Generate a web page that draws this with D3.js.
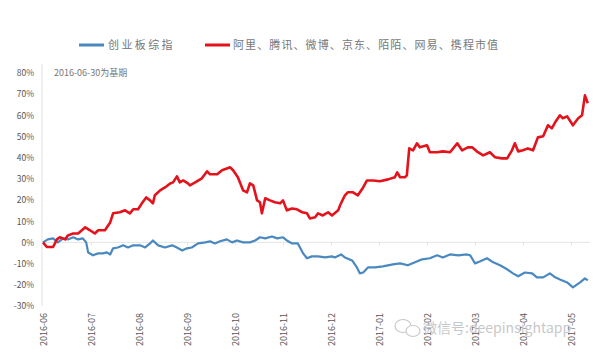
<!DOCTYPE html>
<html><head><meta charset="utf-8">
<script src="https://cdn.jsdelivr.net/npm/d3@7/dist/d3.min.js"></script>
<style>body{margin:0;background:#fff}svg{display:block}</style>
</head><body><svg id="c" width="603" height="356"></svg>
<script>
const tickLabels = ["2016-06","2016-07","2016-08","2016-09","2016-10","2016-11","2016-12","2017-01","2017-02","2017-03","2017-04","2017-05"];
const yTicks = [-30,-20,-10,0,10,20,30,40,50,60,70,80];
const seriesNames = ["创业板综指","阿里、腾讯、微博、京东、陌陌、网易、携程市值"];
// months since base date 2016-06-30, value in %
const redM = [0,0.08,0.21,0.29,0.35,0.46,0.52,0.63,0.73,0.81,0.88,0.98,1.08,1.15,1.29,1.40,1.46,1.60,1.71,1.81,1.88,1.98,2.06,2.15,2.23,2.29,2.33,2.44,2.54,2.65,2.71,2.79,2.85,2.92,3.02,3.06,3.17,3.31,3.42,3.48,3.63,3.73,3.90,3.96,4.06,4.17,4.25,4.31,4.38,4.46,4.52,4.56,4.63,4.73,4.83,4.94,5.00,5.08,5.19,5.29,5.40,5.50,5.56,5.67,5.73,5.83,5.94,6.02,6.15,6.19,6.29,6.35,6.46,6.56,6.67,6.75,6.88,7.02,7.19,7.33,7.38,7.44,7.54,7.58,7.63,7.71,7.79,7.85,8.00,8.06,8.21,8.33,8.48,8.63,8.73,8.85,8.94,9.06,9.17,9.31,9.42,9.56,9.67,9.77,9.83,9.90,10.00,10.10,10.21,10.31,10.42,10.52,10.60,10.67,10.77,10.83,10.92,11.04,11.15,11.23,11.29,11.35];
const redV = [0,-2.2,-2.2,1.4,2.4,1.4,3.3,4.2,4.2,5.7,7.1,5.7,4.2,5.7,5.7,9.4,13.7,14.2,15.1,13.7,15.6,15.6,18.4,21.2,19.8,18.4,22.2,24.5,25.9,27.8,28.3,31.1,28.3,29.2,27.8,26.9,28.3,30.2,33.5,32.1,32.1,34.0,35.4,34.0,30.7,24.5,23.6,27.8,26.9,19.8,18.9,13.7,20.8,19.8,18.9,18.4,19.8,15.1,16.0,15.6,14.2,13.7,11.3,11.8,13.7,12.7,14.2,12.7,15.1,17.5,22.2,23.6,23.6,22.2,25.9,29.2,29.2,28.8,29.7,30.7,33.0,30.7,30.7,31.6,44.3,43.4,46.7,44.8,45.8,42.5,42.5,42.9,42.5,46.7,43.4,44.8,44.8,42.5,41.0,42.5,40.1,39.6,39.6,43.4,46.7,42.9,43.4,44.3,43.4,49.5,50.0,55.2,53.8,56.6,59.9,58.5,59.4,55.2,58.5,59.9,69.3,65.6];
const blueM = [0,0.10,0.21,0.31,0.42,0.52,0.63,0.73,0.83,0.90,0.94,1.04,1.15,1.25,1.33,1.40,1.46,1.56,1.67,1.77,1.88,2.02,2.13,2.23,2.29,2.40,2.54,2.69,2.79,2.90,3.00,3.10,3.23,3.38,3.48,3.58,3.69,3.83,3.94,4.04,4.17,4.31,4.42,4.52,4.63,4.77,4.88,5.00,5.08,5.19,5.31,5.42,5.50,5.60,5.73,5.88,6.02,6.08,6.21,6.29,6.44,6.54,6.60,6.67,6.77,6.92,7.08,7.29,7.44,7.60,7.75,7.90,8.06,8.21,8.33,8.48,8.65,8.83,8.90,9.00,9.10,9.25,9.38,9.52,9.67,9.79,9.90,10.04,10.19,10.29,10.42,10.56,10.67,10.77,10.92,11.04,11.19,11.29,11.35];
const blueV = [0,1.4,1.9,0,1.9,1.4,2.4,1.4,1.9,0,-4.7,-6.1,-5.2,-5.2,-4.7,-5.7,-2.8,-2.4,-1.4,-2.4,-1.4,-1.4,-2.4,-0.5,0.9,-1.4,-2.4,-1.4,-2.4,-3.8,-2.8,-2.4,-0.5,0,0.5,-0.5,0.5,1.4,0,0.9,0,0,0.9,2.4,1.9,2.8,1.9,2.4,0.9,-0.5,-0.5,-5.2,-7.5,-6.6,-6.6,-7.1,-6.6,-7.1,-5.7,-7.1,-8.5,-11.8,-14.6,-14.2,-11.8,-11.8,-11.3,-10.4,-9.9,-10.8,-9.4,-8.0,-7.5,-6.1,-7.1,-5.7,-6.1,-5.7,-6.1,-9.9,-9.0,-7.5,-9.4,-10.8,-12.7,-14.6,-16.0,-14.2,-14.6,-16.5,-16.5,-14.6,-16.5,-17.5,-18.9,-21.2,-18.9,-17.0,-17.9];

const svg = d3.select("#c");
const font = "'Noto Sans CJK SC','DejaVu Sans',sans-serif";
const x = d3.scaleLinear().domain([0, 11]).range([43, 571]);
const y = d3.scaleLinear().domain([-30, 80]).range([306, 72.7]);

// y axis line
svg.append("line").attr("x1",42).attr("x2",42).attr("y1",64).attr("y2",306)
  .attr("stroke","#e2e2e2").attr("stroke-width",1);
// y labels
const yAxis = d3.axisLeft(y).tickValues(yTicks).tickSize(0).tickPadding(8).tickFormat(d => d + "%");
const gy = svg.append("g").attr("transform","translate(42,0)").call(yAxis);
gy.select(".domain").remove();
gy.selectAll("text").attr("font-family",font).attr("font-size",8.5).attr("fill","#555").attr("dy","0.35em");

// zero line / x axis with ticks
const xAxis = d3.axisBottom(x).tickValues(d3.range(tickLabels.length)).tickSize(3).tickFormat(() => "");
const gx = svg.append("g").attr("transform",`translate(0,${y(0)})`).call(xAxis);
gx.select(".domain").attr("stroke","#e4e4e4").attr("d",`M43,0H590`);
gx.selectAll(".tick line").attr("stroke","#e4e4e4");

// x labels rotated
const xl = d3.axisBottom(x).tickValues(d3.range(tickLabels.length)).tickSize(0).tickFormat(i => tickLabels[i]);
const gxl = svg.append("g").attr("transform","translate(0,312)").call(xl);
gxl.select(".domain").remove();
gxl.selectAll("text").attr("font-family",font).attr("font-size",9).attr("fill","#555")
  .attr("transform","rotate(-90)").attr("text-anchor","end").attr("x",-1).attr("y",0).attr("dy","0.35em");

// annotation
svg.append("text").attr("x",54).attr("y",76).text("2016-06-30为基期")
  .attr("font-family",font).attr("font-size",9).attr("fill","#777");

// lines
const line = (M, V) => d3.line().x((d,i)=>x(M[i])).y((d,i)=>y(V[i]))(V);
svg.append("path").attr("d", line(blueM, blueV)).attr("fill","none")
  .attr("stroke","#4a88c0").attr("stroke-width",2.2).attr("stroke-linejoin","round");
svg.append("path").attr("d", line(redM, redV)).attr("fill","none")
  .attr("stroke","#e3121b").attr("stroke-width",2.6).attr("stroke-linejoin","round");

// legend
const lg = svg.append("g");
lg.append("line").attr("x1",79).attr("x2",104).attr("y1",45).attr("y2",45).attr("stroke","#4a88c0").attr("stroke-width",3);
lg.append("text").attr("x",108).attr("y",49).text(seriesNames[0]).attr("font-family",font).attr("font-size",11).attr("fill","#777").attr("letter-spacing",2.4);
lg.append("line").attr("x1",205).attr("x2",230).attr("y1",45).attr("y2",45).attr("stroke","#e3121b").attr("stroke-width",3);
lg.append("text").attr("x",233).attr("y",49).text(seriesNames[1]).attr("font-family",font).attr("font-size",11).attr("fill","#777").attr("letter-spacing",1.1);

// watermark
const wm = svg.append("g").attr("fill","none").attr("stroke","#c8c8c8").attr("stroke-width",1.2);
wm.append("ellipse").attr("cx",403).attr("cy",326).attr("rx",8).attr("ry",6.5);
wm.append("ellipse").attr("cx",413).attr("cy",331).attr("rx",7).attr("ry",5.5).attr("fill","#fff");
svg.append("text").attr("x",423).attr("y",333).text("微信号:deepinsightapp")
  .attr("font-family",font).attr("font-size",14).attr("fill","#c8c8c8");
</script></body></html>
